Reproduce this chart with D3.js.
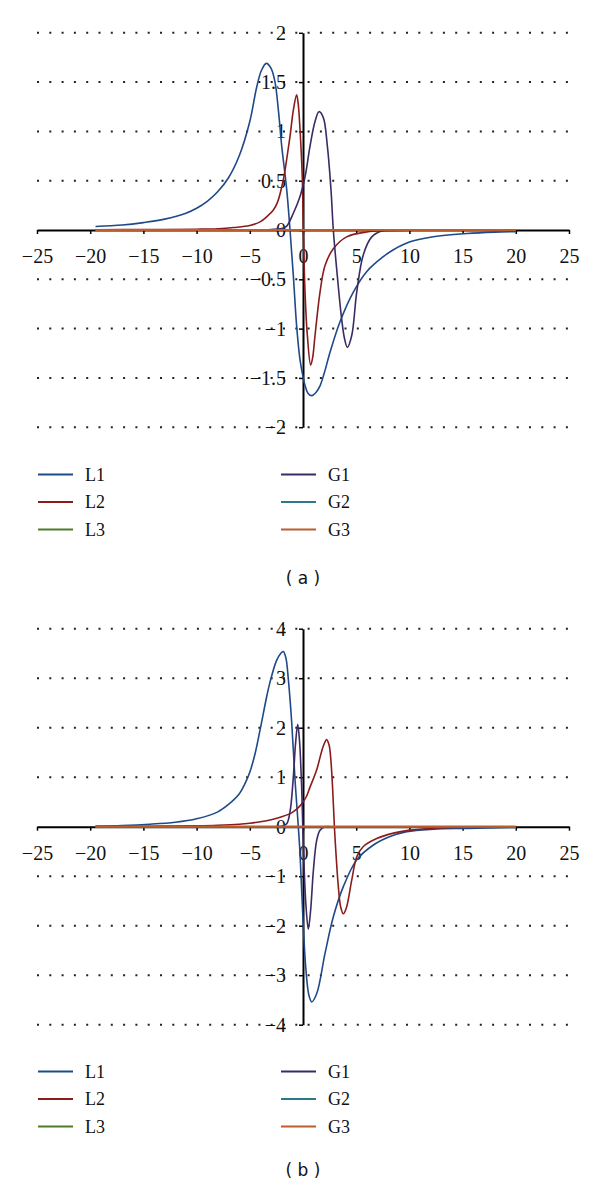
<!DOCTYPE html>
<html>
<head>
<meta charset="utf-8">
<script src="https://cdn.jsdelivr.net/npm/d3@7"></script>
<style>
  body { margin: 0; background: #fff; }
</style>
</head>
<body>
<svg id="canvas" width="600" height="1192"></svg>
<script>
/************* Data **************/
var xTicks = [-25, -20, -15, -10, -5, 0, 5, 10, 15, 20, 25];
var yTicksA = [-2, -1.5, -1, -0.5, 0, 0.5, 1, 1.5, 2];
var yTicksB = [-4, -3, -2, -1, 0, 1, 2, 3, 4];
var seriesNames = ["L1", "L2", "L3", "G1", "G2", "G3"];

// panel (a), [x, y]
var a_L1 = [[-19.5,0.035],[-17,0.05],[-15,0.075],[-13,0.11],[-11,0.17],[-10,0.22],[-9,0.29],[-8,0.39],
  [-7,0.53],[-6,0.75],[-5,1.1],[-4.35,1.45],[-3.9,1.62],[-3.45,1.69],[-3.0,1.64],[-2.63,1.5],[-2.3,1.2],
  [-2.0,0.85],[-1.53,0.41],[-1.22,0],[-0.91,-0.46],[-0.6,-0.97],[-0.3,-1.3],[-0.12,-1.42],[0.2,-1.58],
  [0.5,-1.66],[0.82,-1.68],[1.2,-1.65],[1.6,-1.58],[2.0,-1.45],[2.54,-1.24],[3.48,-0.93],[4.73,-0.63],
  [6.0,-0.42],[7.55,-0.27],[8.5,-0.2],[10.06,-0.12],[12.25,-0.068],[15.4,-0.036],[18,-0.022],[20,-0.017]];
var a_L2 = [[-19.5,0.003],[-15,0.004],[-10,0.008],[-8,0.013],[-6.5,0.025],[-5,0.045],[-4,0.085],[-3.4,0.135],
  [-2.8,0.2],[-2.4,0.28],[-1.85,0.51],[-1.53,0.72],[-1.22,0.95],[-0.9,1.22],[-0.6,1.37],[-0.45,1.28],
  [-0.28,1.02],[-0.06,0.51],[0.03,0],[0.19,-0.63],[0.41,-1.07],[0.72,-1.37],[0.9,-1.3],[1.13,-1.07],
  [1.6,-0.63],[2.07,-0.36],[2.85,-0.19],[4.1,-0.07],[6.0,-0.02],[7.5,-0.007],[10,-0.003],[15,0],[20,0]];
var a_L3 = [[-19.5,0],[0,0],[20,0]];
var a_G1 = [[-19.5,0],[-6,0],[-5,0],[-3,0.005],[-2,0.015],[-1.53,0.04],[-0.91,0.17],[-0.28,0.34],[0.19,0.54],
  [0.66,0.85],[1.13,1.1],[1.5,1.2],[1.91,1.14],[2.29,0.85],[2.63,0.41],[2.85,0],[3.22,-0.46],[3.63,-0.9],
  [3.9,-1.1],[4.17,-1.19],[4.58,-1.07],[5.05,-0.63],[5.67,-0.25],[6.46,-0.07],[7.4,-0.01],[8.5,0],[10,0],[20,0]];
var a_G2 = [[-19.5,0],[0,0],[20,0]];
var a_G3 = [[-19.5,0],[0,0],[20,0]];

// panel (b)
var b_L1 = [[-19.5,0.015],[-17,0.025],[-14.4,0.05],[-12,0.09],[-10,0.16],[-8,0.3],[-7,0.45],[-6,0.66],
  [-5.5,0.85],[-5,1.1],[-4.5,1.48],[-4.04,1.95],[-3.41,2.63],[-3.1,2.92],[-2.5,3.35],[-2.1,3.5],[-1.85,3.54],
  [-1.6,3.4],[-1.38,2.98],[-1.06,2.1],[-0.75,0.95],[-0.44,0],[-0.28,-0.54],[0.03,-2.02],[0.28,-2.9],
  [0.55,-3.4],[0.82,-3.54],[1.29,-3.37],[2.07,-2.56],[2.85,-1.82],[3.79,-1.21],[5.05,-0.67],[6.62,-0.37],
  [8.18,-0.2],[9.75,-0.1],[12.25,-0.05],[15.4,-0.033],[20,-0.013]];
var b_L2 = [[-19.5,0.005],[-15,0.01],[-10,0.02],[-8,0.03],[-6,0.05],[-5,0.07],[-4,0.1],[-3,0.14],[-2,0.2],
  [-1,0.29],[-0.28,0.42],[0.3,0.6],[0.66,0.8],[1.29,1.15],[1.6,1.4],[1.91,1.63],[2.22,1.76],[2.45,1.65],
  [2.6,1.4],[2.79,0.75],[2.95,0],[3.1,-0.54],[3.32,-1.21],[3.54,-1.62],[3.79,-1.76],[4.1,-1.62],[4.58,-1.08],
  [5.05,-0.61],[5.67,-0.4],[6.93,-0.24],[8.5,-0.13],[10.06,-0.07],[12.2,-0.03],[15,-0.01],[20,0]];
var b_L3 = [[-19.5,0],[0,0],[20,0]];
var b_G1 = [[-19.5,0],[-4,0],[-3,0],[-2,0.01],[-1.53,0.06],[-1.22,0.3],[-0.91,1.0],[-0.7,1.68],[-0.5,2.07],
  [-0.35,1.8],[-0.25,1.45],[-0.12,0.75],[-0.02,0],[0.1,-0.8],[0.28,-1.6],[0.5,-2.07],[0.72,-1.68],
  [0.97,-0.9],[1.29,-0.27],[1.6,-0.07],[2.07,0],[2.6,0],[3.5,0],[20,0]];
var b_G2 = [[-19.5,0],[0,0],[20,0]];
var b_G3 = [[-19.5,0],[0,0],[20,0]];


/********** Initialisation *********/
var svg = d3.select("#canvas");
var colors = ["#1f4a87", "#8b1c1c", "#4e7d2a", "#3b2a63", "#2a7a8a", "#bb5e2c"];
var serifFont = "Liberation Serif, Times New Roman, serif";

var x = d3.scaleLinear().domain([-25, 25]).range([37, 569]);


/*********** Panel *************/
function drawPanel(p)
{
    var y = d3.scaleLinear()
        .domain([p.yTicks[0], p.yTicks[p.yTicks.length - 1]])
        .range([p.bottom, p.top]);

    var g = svg.append("g");

    // dotted gridlines
    g.append("g")
        .selectAll("line")
        .data(p.yTicks.filter(function(d) { return d !== 0; }))
        .enter()
        .append("line")
        .attr("x1", x(-25))
        .attr("x2", x(25))
        .attr("y1", function(d) { return y(d); })
        .attr("y2", function(d) { return y(d); })
        .attr("stroke", "#222")
        .attr("stroke-width", 2)
        .attr("stroke-dasharray", "2,10.3");

    var fmt = d3.format("~g");

    var xAxis = d3.axisBottom(x)
        .tickValues(xTicks)
        .tickSize(4)
        .tickSizeOuter(0)
        .tickPadding(15)
        .tickFormat(fmt);

    var yAxis = d3.axisLeft(y)
        .tickValues(p.yTicks)
        .tickSize(4)
        .tickSizeOuter(0)
        .tickPadding(13)
        .tickFormat(fmt);

    var gx = g.append("g")
        .attr("transform", "translate(0," + y(0) + ")")
        .call(xAxis);

    var gy = g.append("g")
        .attr("transform", "translate(" + x(0) + ",0)")
        .call(yAxis);

    [gx, gy].forEach(function(ax) {
        ax.select(".domain").attr("stroke", "#000").attr("stroke-width", 2);
        ax.selectAll(".tick line").attr("stroke", "#000").attr("stroke-width", 1.5);
        ax.selectAll(".tick text")
            .attr("fill", "#111")
            .attr("font-family", serifFont)
            .attr("font-size", 20);
    });

    // curves
    var line = d3.line()
        .x(function(d) { return x(d[0]); })
        .y(function(d) { return y(d[1]); })
        .curve(d3.curveCatmullRom.alpha(0.5));

    g.append("g")
        .selectAll("path")
        .data(p.series)
        .enter()
        .append("path")
        .attr("d", line)
        .attr("fill", "none")
        .attr("stroke", function(d, i) { return colors[i]; })
        .attr("stroke-width", function(d, i) { return i == 5 ? 2.2 : 1.6; });

    // legend
    var leg = g.append("g")
        .selectAll("g")
        .data(seriesNames)
        .enter()
        .append("g")
        .attr("transform", function(d, i) {
            var col = i < 3 ? 0 : 1;
            return "translate(" + (col == 0 ? 38 : 281) + "," + (p.legendTop + (i % 3) * 27.5) + ")";
        });

    leg.append("line")
        .attr("x1", 0)
        .attr("x2", 35)
        .attr("stroke", function(d, i) { return colors[i]; })
        .attr("stroke-width", 2);

    leg.append("text")
        .attr("x", 47)
        .attr("dy", "0.35em")
        .attr("font-family", serifFont)
        .attr("font-size", 18)
        .attr("fill", "#111")
        .text(function(d) { return d; });

    // caption
    g.append("text")
        .attr("x", 303)
        .attr("y", p.captionY)
        .attr("text-anchor", "middle")
        .attr("dy", "0.35em")
        .attr("font-family", "DejaVu Sans, sans-serif")
        .attr("font-size", 17)
        .attr("fill", "#111")
        .text(p.caption);
}

drawPanel({
    yTicks: yTicksA, top: 32.8, bottom: 427.2,
    series: [a_L1, a_L2, a_L3, a_G1, a_G2, a_G3],
    legendTop: 474.5, caption: "( a )", captionY: 578
});

drawPanel({
    yTicks: yTicksB, top: 628.7, bottom: 1024.7,
    series: [b_L1, b_L2, b_L3, b_G1, b_G2, b_G3],
    legendTop: 1071.5, caption: "( b )", captionY: 1170
});
</script>
</body>
</html>
